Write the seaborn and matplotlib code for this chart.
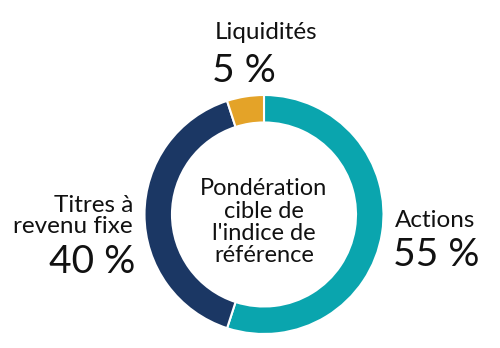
import matplotlib
matplotlib.use("Agg")
import matplotlib.pyplot as plt
import seaborn as sns

categories = ["Actions", "Titres à\nrevenu fixe", "Liquidités"]
values = [55, 40, 5]
pct_labels = ["55 %", "40 %", "5 %"]
colors = ["#0AA5AE", "#1B3764", "#E4A328"]
center_text = "Pondération\ncible de\nl'indice de\nréférence"

sns.set_theme(style="white")
plt.rcParams['font.family'] = ['Lato', 'DejaVu Sans']

W, H = 500, 348
fig = plt.figure(figsize=(5, 3.48), dpi=100)
ax = fig.add_axes([0, 0, 1, 1])

cx, cy, R = 264, H - 214.5, 119.5
ax.pie(values, colors=colors, startangle=90, counterclock=False,
       center=(cx, cy), radius=R, frame=True,
       wedgeprops=dict(width=R * 0.23, edgecolor='white', linewidth=1.5))
ax.set_xlim(0, W)
ax.set_ylim(0, H)
ax.set_aspect('equal')
ax.axis('off')

ax.text(cx, H - 262, center_text, ha='center', va='baseline', fontsize=17,
        linespacing=1.07, color='#111111', multialignment='center')

# Actions
ax.text(395, H - 227, categories[0], ha='left', va='baseline', fontsize=17.5, color='#111111')
ax.text(393, H - 266, pct_labels[0], ha='left', va='baseline', fontsize=28, color='#111111')
# Titres
ax.text(133, H - 233, categories[1], ha='right', va='baseline', fontsize=17.5, color='#111111',
        linespacing=1.0, multialignment='right')
ax.text(135, H - 273, pct_labels[1], ha='right', va='baseline', fontsize=28, color='#111111')
# Liquidités
ax.text(266, H - 39, categories[2], ha='center', va='baseline', fontsize=17.5, color='#111111')
ax.text(244, H - 82, pct_labels[2], ha='center', va='baseline', fontsize=28, color='#111111')

fig.savefig("out.png", dpi=100)
